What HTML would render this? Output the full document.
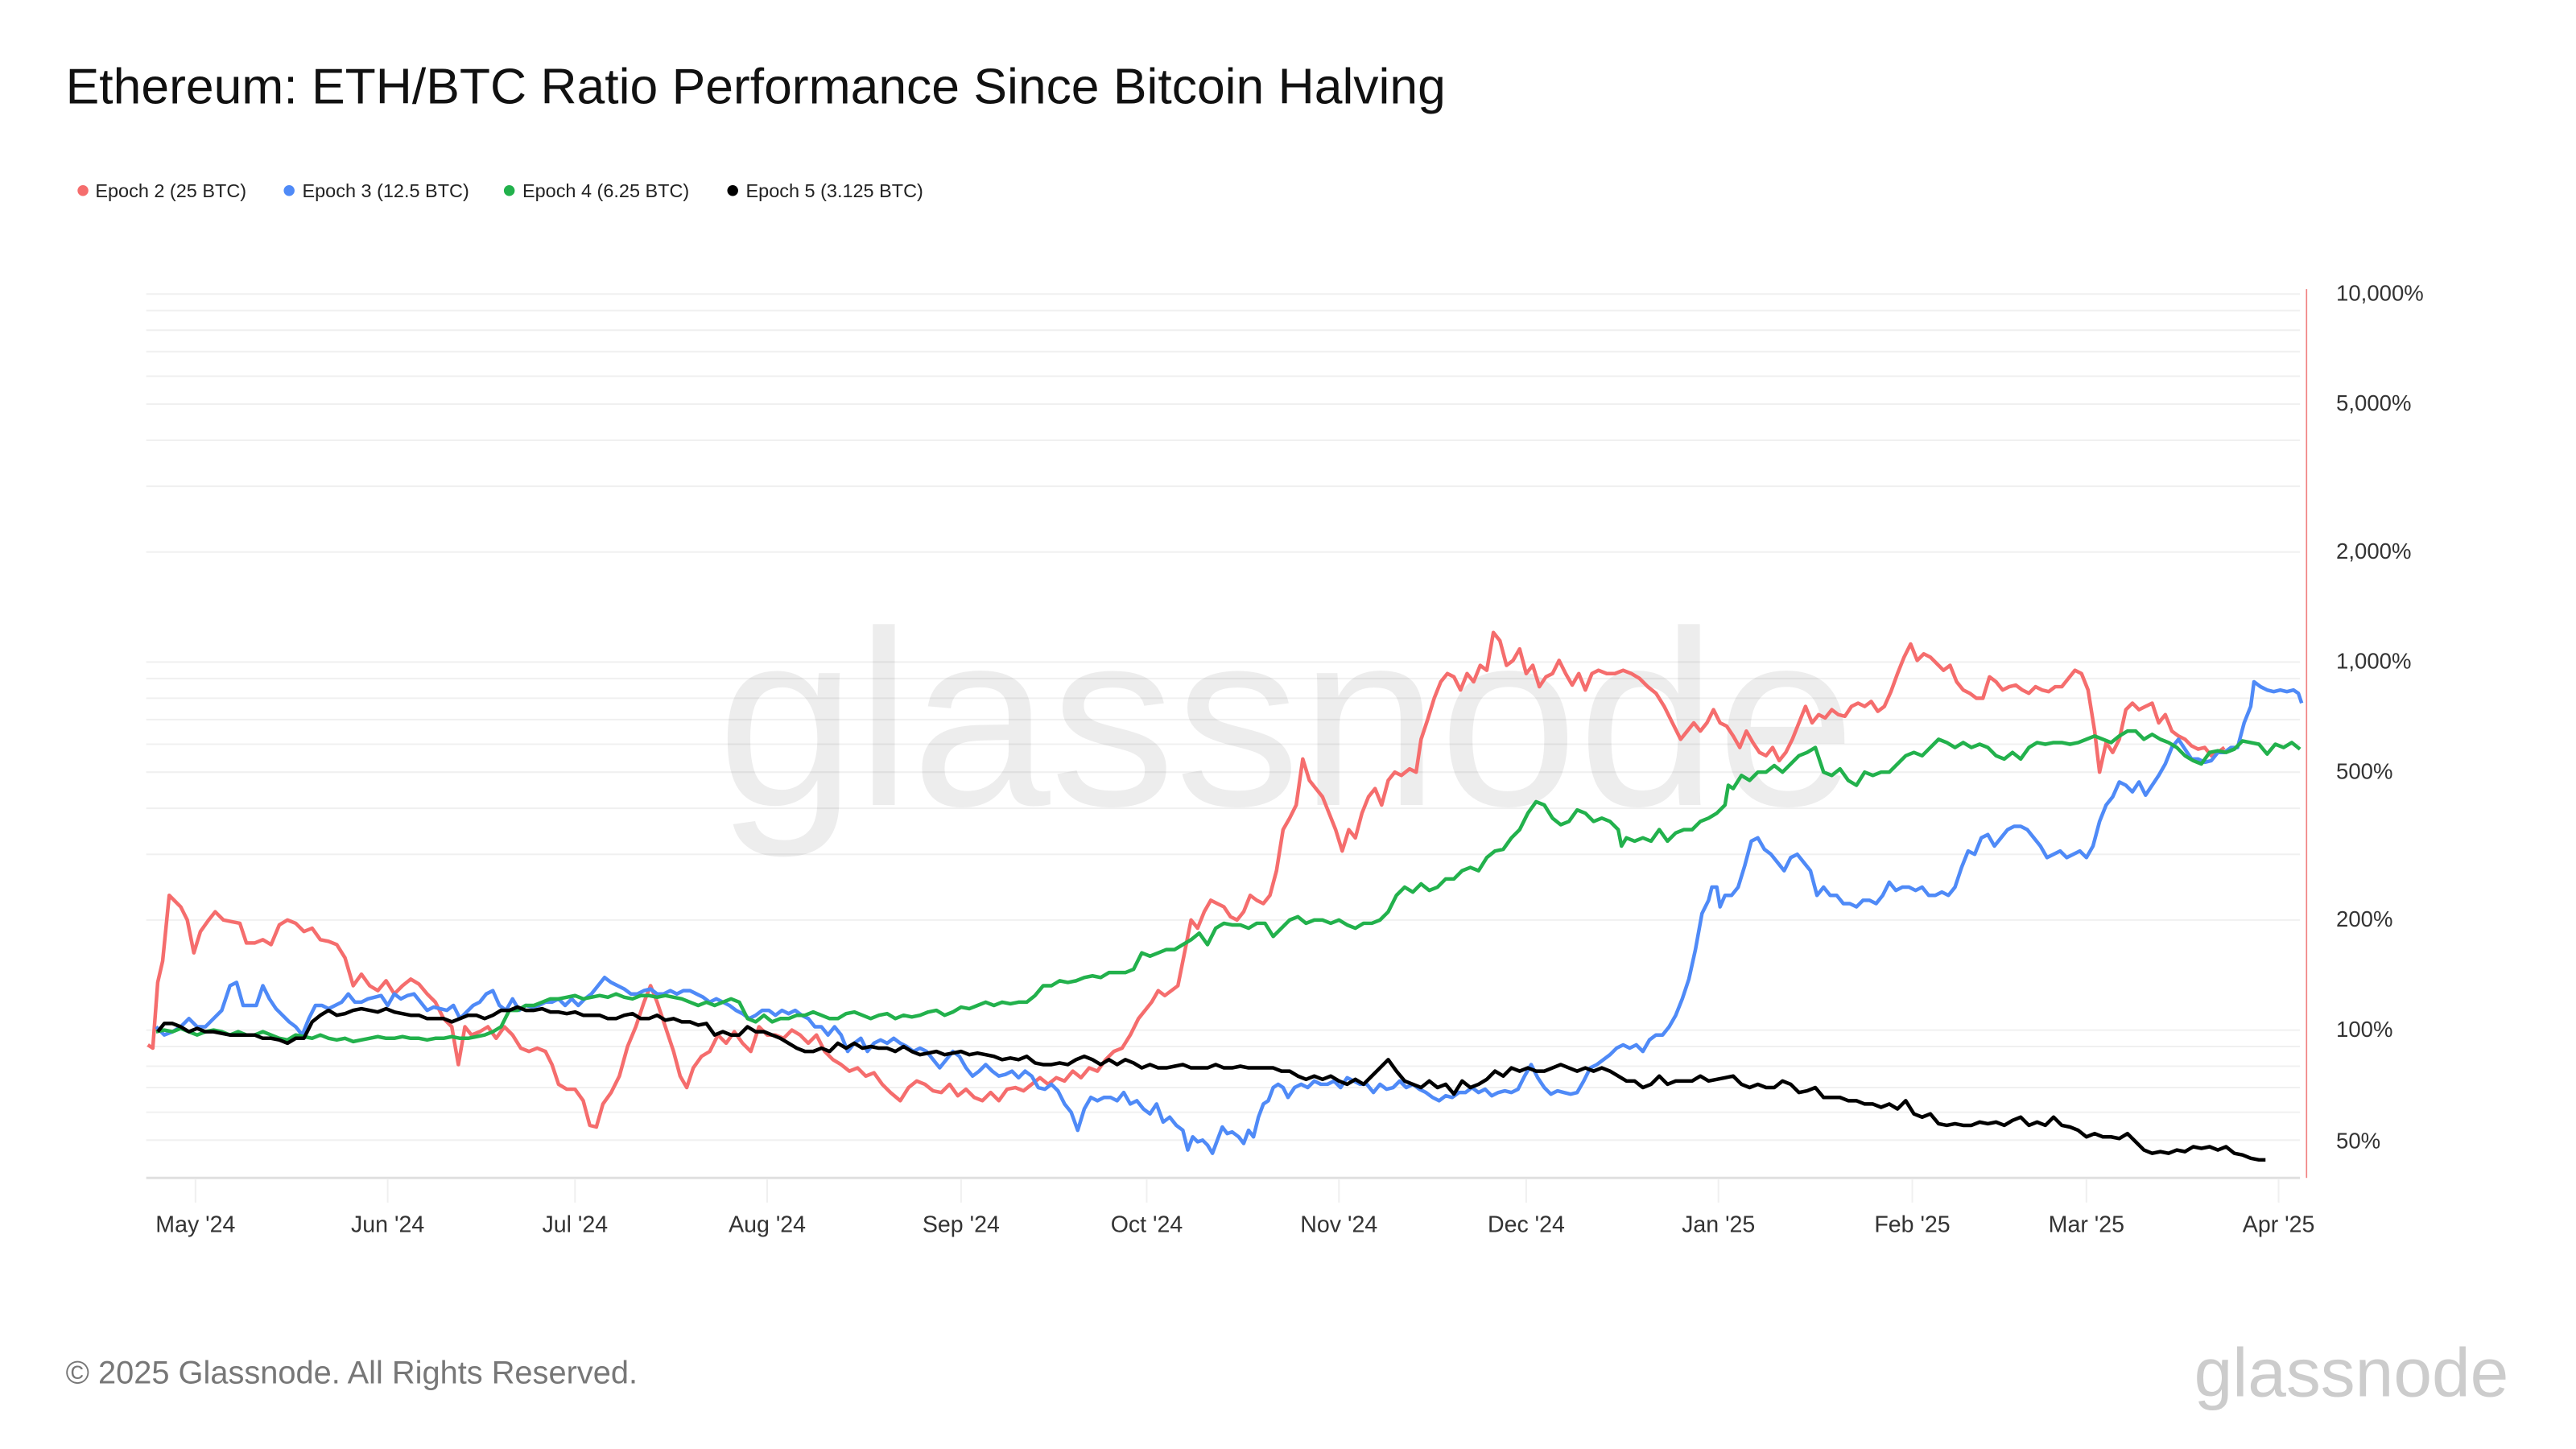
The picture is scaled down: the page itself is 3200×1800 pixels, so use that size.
<!DOCTYPE html>
<html><head><meta charset="utf-8"><style>
html,body{margin:0;padding:0;background:#fff;}
svg{display:block;}
text{font-family:"Liberation Sans",Arial,sans-serif;}
</style></head><body>
<svg width="3200" height="1800" viewBox="0 0 1568 882" preserveAspectRatio="none" xmlns="http://www.w3.org/2000/svg">
<rect width="1568" height="882" fill="#fff"/>
<text x="40" y="63" font-size="30.6" fill="#111">Ethereum: ETH/BTC Ratio Performance Since Bitcoin Halving</text>
<g font-size="11.5" fill="#222">
<circle cx="50.5" cy="116" r="3.3" fill="#f56d6d"/><text x="58" y="120">Epoch 2 (25 BTC)</text>
<circle cx="176" cy="116" r="3.3" fill="#4f8af7"/><text x="184" y="120">Epoch 3 (12.5 BTC)</text>
<circle cx="310" cy="116" r="3.3" fill="#22b14c"/><text x="318" y="120">Epoch 4 (6.25 BTC)</text>
<circle cx="446" cy="116" r="3.3" fill="#000"/><text x="454" y="120">Epoch 5 (3.125 BTC)</text>
</g>
<g stroke="#f0f0f0" stroke-width="1">
<line x1="89" x2="1400" y1="179" y2="179"/><line x1="89" x2="1400" y1="189" y2="189"/><line x1="89" x2="1400" y1="201" y2="201"/><line x1="89" x2="1400" y1="214" y2="214"/><line x1="89" x2="1400" y1="229" y2="229"/><line x1="89" x2="1400" y1="246" y2="246"/><line x1="89" x2="1400" y1="268" y2="268"/><line x1="89" x2="1400" y1="296" y2="296"/><line x1="89" x2="1400" y1="336" y2="336"/>
<line x1="89" x2="1400" y1="403" y2="403"/><line x1="89" x2="1400" y1="413" y2="413"/><line x1="89" x2="1400" y1="425" y2="425"/><line x1="89" x2="1400" y1="438" y2="438"/><line x1="89" x2="1400" y1="453" y2="453"/><line x1="89" x2="1400" y1="470" y2="470"/><line x1="89" x2="1400" y1="492" y2="492"/><line x1="89" x2="1400" y1="520" y2="520"/><line x1="89" x2="1400" y1="560" y2="560"/>
<line x1="89" x2="1400" y1="627" y2="627"/><line x1="89" x2="1400" y1="637" y2="637"/><line x1="89" x2="1400" y1="649" y2="649"/><line x1="89" x2="1400" y1="662" y2="662"/><line x1="89" x2="1400" y1="677" y2="677"/><line x1="89" x2="1400" y1="694" y2="694"/>
</g>
<line x1="89" x2="1400" y1="717" y2="717" stroke="#e0e0e0" stroke-width="1.5"/>
<g stroke="#f0f0f0" stroke-width="1">
<line x1="119" x2="119" y1="718" y2="732"/><line x1="236" x2="236" y1="718" y2="732"/><line x1="350" x2="350" y1="718" y2="732"/><line x1="467" x2="467" y1="718" y2="732"/><line x1="585" x2="585" y1="718" y2="732"/><line x1="698" x2="698" y1="718" y2="732"/><line x1="815" x2="815" y1="718" y2="732"/><line x1="929" x2="929" y1="718" y2="732"/><line x1="1046" x2="1046" y1="718" y2="732"/><line x1="1164" x2="1164" y1="718" y2="732"/><line x1="1270" x2="1270" y1="718" y2="732"/><line x1="1387" x2="1387" y1="718" y2="732"/>
</g>
<line x1="1404" x2="1404" y1="176" y2="717" stroke="#f08080" stroke-width="0.8"/>
<text x="783" y="490" font-size="152" fill="#000" fill-opacity="0.07" text-anchor="middle">glassnode</text>
<g font-size="13.5" fill="#333">
<text x="1422" y="183">10,000%</text><text x="1422" y="250">5,000%</text><text x="1422" y="340">2,000%</text><text x="1422" y="407">1,000%</text><text x="1422" y="474">500%</text><text x="1422" y="564">200%</text><text x="1422" y="631">100%</text><text x="1422" y="699">50%</text>
</g>
<g font-size="14" fill="#333" text-anchor="middle">
<text x="119" y="750">May '24</text><text x="236" y="750">Jun '24</text><text x="350" y="750">Jul '24</text><text x="467" y="750">Aug '24</text><text x="585" y="750">Sep '24</text><text x="698" y="750">Oct '24</text><text x="815" y="750">Nov '24</text><text x="929" y="750">Dec '24</text><text x="1046" y="750">Jan '25</text><text x="1164" y="750">Feb '25</text><text x="1270" y="750">Mar '25</text><text x="1387" y="750">Apr '25</text>
</g>
<g fill="none" stroke-width="2.2" stroke-linejoin="round">
<polyline stroke="#f56d6d" points="90,636 93,638 96,598 99,585 103,545 106,548 110,552 114,560 118,580 122,567 127,560 131,555 136,560 141,561 146,562 150,574 155,574 160,572 165,575 170,563 175,560 180,562 185,567 190,565 195,572 200,573 205,575 210,583 215,600 220,593 225,600 230,603 235,597 240,605 245,600 250,596 255,599 260,605 265,610 270,620 275,625 279,648 283,625 287,630 292,628 297,625 302,632 307,625 312,630 317,638 322,640 327,638 332,640 336,648 340,660 345,663 350,663 355,670 359,685 363,686 367,672 372,665 377,655 382,637 387,625 392,610 396,600 400,610 405,625 410,640 414,655 418,662 422,650 427,643 432,640 437,630 442,635 447,628 452,635 457,640 462,625 467,630 472,630 477,632 482,627 487,630 492,635 497,630 502,640 507,645 512,648 517,652 522,650 527,655 532,653 537,660 542,665 548,670 553,662 558,658 563,660 568,664 573,665 578,660 583,667 588,663 593,668 598,670 603,665 608,670 613,663 618,662 623,664 628,660 633,656 638,660 643,656 648,658 653,652 658,656 663,650 668,652 673,645 678,640 683,638 688,630 693,620 697,615 701,610 705,603 709,606 713,603 717,600 721,580 725,560 729,565 733,555 737,548 741,550 745,552 749,558 753,560 757,555 761,545 765,548 769,550 773,545 777,530 781,505 785,498 789,490 793,462 797,475 801,480 805,485 809,495 813,505 817,518 821,505 825,510 829,495 833,485 837,480 841,490 845,475 849,470 853,472 858,468 862,470 865,450 869,438 873,425 877,415 881,410 885,412 889,420 893,410 897,415 901,405 905,408 909,385 913,390 917,405 921,402 925,395 929,410 933,405 937,418 941,412 945,410 949,402 953,410 957,417 961,410 965,420 969,410 973,408 978,410 983,410 988,408 993,410 998,413 1003,418 1008,422 1013,430 1018,440 1023,450 1027,445 1031,440 1035,445 1039,440 1043,432 1047,440 1051,442 1055,448 1059,455 1063,445 1067,452 1071,458 1075,460 1079,455 1083,463 1087,458 1091,450 1095,440 1099,430 1103,440 1107,435 1111,437 1115,432 1119,435 1123,436 1127,430 1131,428 1135,430 1139,427 1143,433 1147,430 1151,421 1155,410 1159,400 1163,392 1167,402 1171,398 1175,400 1179,404 1183,408 1187,405 1191,415 1195,420 1199,422 1203,425 1207,425 1211,412 1215,415 1219,420 1223,418 1227,417 1231,420 1235,422 1239,418 1243,420 1247,421 1251,418 1255,418 1259,413 1263,408 1267,410 1271,420 1275,445 1278,470 1282,452 1286,458 1290,450 1294,432 1298,428 1302,432 1306,430 1310,428 1314,440 1318,435 1322,445 1326,448 1330,450 1334,454 1338,456 1342,455 1346,460 1350,458 1354,455"/>
<polyline stroke="#4f8af7" points="95,625 100,630 105,628 110,625 115,620 120,625 125,625 130,620 135,615 140,600 144,598 148,612 152,612 156,612 160,600 164,608 168,614 172,618 176,622 180,625 184,630 188,620 192,612 196,612 200,614 204,612 208,610 212,605 216,610 220,610 224,608 228,607 232,606 236,612 240,605 244,608 248,606 252,605 256,610 260,615 264,613 268,614 272,615 276,612 280,620 284,616 288,612 292,610 296,605 300,603 304,612 308,615 312,608 316,615 320,612 324,613 328,612 332,610 336,610 340,608 344,612 348,608 352,612 356,608 360,605 364,600 368,595 372,598 376,600 380,602 384,605 388,605 392,603 396,602 400,605 404,605 408,603 412,605 416,603 420,603 424,605 428,607 432,610 436,608 440,610 444,612 448,615 452,617 456,620 460,618 464,615 468,615 472,618 476,615 480,617 484,615 488,618 492,620 496,625 500,625 504,630 508,625 512,630 516,640 520,635 524,632 528,640 532,635 536,633 540,635 544,632 548,635 552,637 556,640 560,638 564,640 568,645 572,650 576,645 580,640 584,643 588,650 592,655 596,652 600,648 604,652 608,655 612,654 616,652 620,656 624,652 628,655 632,662 636,663 640,660 644,664 648,672 652,677 656,688 660,675 664,668 668,670 672,668 676,668 680,670 684,665 688,672 692,670 696,675 700,678 704,672 708,683 712,680 716,685 720,688 723,700 726,692 729,695 732,694 735,697 738,702 741,694 744,686 747,690 750,689 754,692 757,696 760,688 763,692 766,680 769,672 772,670 775,662 778,660 781,662 784,668 788,662 792,660 796,662 800,658 804,660 808,660 812,658 816,662 820,656 824,658 828,660 832,660 836,665 840,660 844,663 848,662 852,658 856,662 860,660 864,663 868,665 872,668 876,670 880,667 884,668 888,665 892,665 896,662 900,665 904,663 908,667 912,665 916,664 920,665 924,663 928,655 932,648 936,656 940,662 944,666 948,664 952,665 956,666 960,665 964,658 968,650 972,648 976,645 980,642 984,638 988,636 992,638 996,636 1000,640 1004,633 1008,630 1012,630 1016,625 1020,618 1024,608 1028,596 1032,578 1036,556 1040,548 1042,540 1045,540 1047,552 1050,545 1054,545 1058,540 1062,527 1066,512 1070,510 1074,517 1078,520 1082,525 1086,530 1090,522 1094,520 1098,525 1102,530 1106,545 1110,540 1114,545 1118,545 1122,550 1126,550 1130,552 1134,548 1138,548 1142,550 1146,545 1150,537 1154,542 1158,540 1162,540 1166,542 1170,540 1174,545 1178,545 1182,543 1186,545 1190,540 1194,528 1198,518 1202,520 1206,510 1210,508 1214,515 1218,510 1222,505 1226,503 1230,503 1234,505 1238,510 1242,515 1246,522 1250,520 1254,518 1258,522 1262,520 1266,518 1270,522 1274,515 1278,500 1282,490 1286,485 1290,476 1294,478 1298,482 1302,476 1306,484 1310,478 1314,472 1318,465 1322,455 1326,450 1330,456 1334,462 1338,462 1342,464 1346,463 1350,458 1354,458 1358,455 1362,455 1366,440 1370,430 1372,415 1376,418 1380,420 1384,421 1388,420 1392,421 1396,420 1399,422 1401,428"/>
<polyline stroke="#22b14c" points="95,628 100,627 105,628 110,626 115,628 120,630 125,628 130,627 135,628 140,630 145,628 150,630 155,630 160,628 165,630 170,632 175,633 180,630 185,631 190,632 195,630 200,632 205,633 210,632 215,634 220,633 225,632 230,631 235,632 240,632 245,631 250,632 255,632 260,633 265,632 270,632 275,631 280,632 285,632 290,631 295,630 300,628 305,625 310,615 315,615 320,612 325,612 330,610 335,608 340,608 345,607 350,606 355,608 360,607 365,606 370,607 375,605 380,607 385,608 390,606 395,606 400,607 405,606 410,607 415,608 420,610 425,612 430,610 435,612 440,610 445,608 450,610 455,620 460,622 465,618 470,622 475,620 480,620 485,618 490,618 495,616 500,618 505,620 510,620 515,617 520,616 525,618 530,620 535,618 540,617 545,620 550,618 555,619 560,618 565,616 570,615 575,618 580,616 585,613 590,614 595,612 600,610 605,612 610,610 615,611 620,610 625,610 630,606 635,600 640,600 645,597 650,598 655,597 660,595 665,594 670,595 675,592 680,592 685,592 690,590 695,580 700,582 705,580 710,578 715,578 720,575 725,572 730,568 735,575 740,565 745,562 750,563 755,563 760,565 765,562 770,562 775,570 780,565 785,560 790,558 795,562 800,560 805,560 810,562 815,560 820,563 825,565 830,562 835,562 840,560 845,555 850,545 855,540 860,543 865,538 870,542 875,540 880,535 885,535 890,530 895,528 900,530 905,522 910,518 915,517 920,510 925,505 930,495 935,488 940,490 945,498 950,502 955,500 960,493 965,495 970,500 975,498 980,500 985,505 987,515 990,510 995,512 1000,510 1005,512 1010,505 1015,512 1020,507 1025,505 1030,505 1035,500 1040,498 1045,495 1050,490 1052,478 1055,480 1060,472 1065,475 1070,470 1075,470 1080,466 1085,470 1090,465 1095,460 1100,458 1105,455 1110,470 1115,472 1120,468 1125,475 1130,478 1135,470 1140,472 1145,470 1150,470 1155,465 1160,460 1165,458 1170,460 1175,455 1180,450 1185,452 1190,455 1195,452 1200,455 1205,453 1210,455 1215,460 1220,462 1225,458 1230,462 1235,455 1240,452 1245,453 1250,452 1255,452 1260,453 1265,452 1270,450 1275,448 1280,450 1285,452 1290,448 1295,445 1300,445 1305,450 1310,447 1315,450 1320,452 1325,455 1330,460 1335,463 1340,465 1345,458 1350,457 1355,458 1360,456 1365,451 1370,452 1375,453 1380,459 1385,453 1390,455 1395,452 1400,456"/>
<polyline stroke="#000" points="96,628 100,623 105,623 110,625 115,628 120,626 125,628 130,628 135,629 140,630 145,630 150,630 155,630 160,632 165,632 170,633 175,635 180,632 185,632 190,622 195,618 200,615 205,618 210,617 215,615 220,614 225,615 230,616 235,614 240,616 245,617 250,618 255,618 260,620 265,620 270,620 275,622 280,620 285,618 290,618 295,620 300,618 305,615 310,615 315,613 320,615 325,615 330,614 335,616 340,616 345,617 350,616 355,618 360,618 365,618 370,620 375,620 380,618 385,617 390,620 395,620 400,618 405,621 410,620 415,622 420,622 425,624 430,623 435,630 440,628 445,630 450,630 455,625 460,628 465,628 470,630 475,632 480,635 485,638 490,640 495,640 500,638 505,640 510,635 515,638 520,635 525,638 530,637 535,638 540,638 545,640 550,637 555,640 560,642 565,641 570,640 575,642 580,641 585,640 590,642 595,641 600,642 605,643 610,645 615,644 620,645 625,643 630,647 635,648 640,648 645,647 650,648 655,645 660,643 665,645 670,648 675,645 680,648 685,645 690,647 695,650 700,648 705,650 710,650 715,649 720,648 725,650 730,650 735,650 740,648 745,650 750,650 755,649 760,650 765,650 770,650 775,650 780,652 785,652 790,655 795,657 800,655 805,657 810,655 815,658 820,660 825,657 830,660 835,655 840,650 845,645 850,652 855,658 860,660 865,662 870,658 875,662 880,660 885,666 890,658 895,662 900,660 905,657 910,652 915,655 920,650 925,652 930,650 935,652 940,652 945,650 950,648 955,650 960,652 965,650 970,652 975,650 980,652 985,655 990,658 995,658 1000,662 1005,660 1010,655 1015,660 1020,658 1025,658 1030,658 1035,655 1040,658 1045,657 1050,656 1055,655 1060,660 1065,662 1070,660 1075,662 1080,662 1085,658 1090,660 1095,665 1100,664 1105,662 1110,668 1115,668 1120,668 1125,670 1130,670 1135,672 1140,672 1145,674 1150,672 1155,675 1160,670 1165,678 1170,680 1175,678 1180,684 1185,685 1190,684 1195,685 1200,685 1205,683 1210,684 1215,683 1220,685 1225,682 1230,680 1235,685 1240,683 1245,685 1250,680 1255,685 1260,686 1265,688 1270,692 1275,690 1280,692 1285,692 1290,693 1295,690 1300,695 1305,700 1310,702 1315,701 1320,702 1325,700 1330,701 1335,698 1340,699 1345,698 1350,700 1355,698 1360,702 1365,703 1370,705 1375,706 1379,706"/>
</g>
<text x="40" y="842" font-size="19.5" fill="#777">© 2025 Glassnode. All Rights Reserved.</text>
<text x="1527" y="850" font-size="42" fill="#ccc" text-anchor="end">glassnode</text>
</svg>
</body></html>
